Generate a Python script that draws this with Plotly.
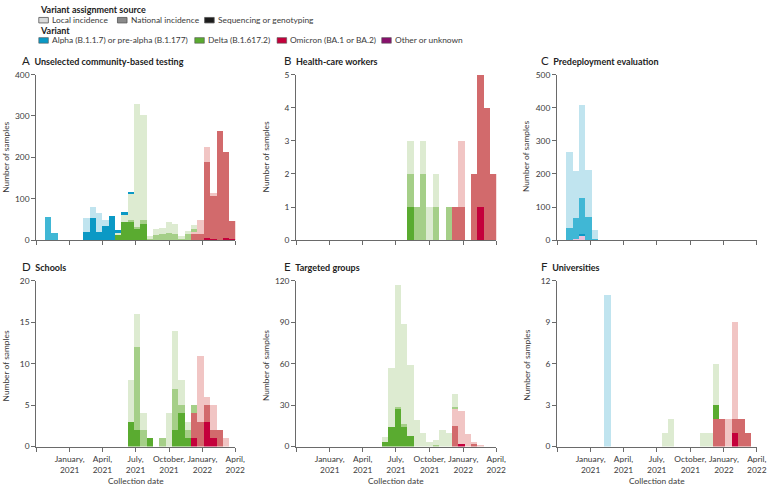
import plotly.graph_objects as go
from datetime import datetime, timedelta

# ---------------- data ----------------
# 30 histogram bins (approx. 17.5 days each) starting late October 2020
BIN_START = datetime(2020, 10, 26)
BIN_DAYS = 17.45
N_BINS = 30

# Panel A: Unselected community-based testing
A_alpha_seq = [0,0,0,0,0,0,21,54,20,35, 60,8,7,2,0,0,0,0,0,0, 0,0,0,0,0,0,0,0,0,0]
A_alpha_nat = [57,18,0,0,0,0,0,0,0,0, 0,0,0,0,0,0,0,0,0,0, 0,0,0,0,0,0,0,0,0,0]
A_alpha_loc = [0,0,0,0,0,0,34,28,47,15, 0,0,0,0,0,0,0,0,0,0, 0,0,0,0,0,0,0,0,0,0]
A_delta_seq = [0,0,0,0,0,0,0,0,0,0, 0,12,46,47,30,41,0,0,0,0, 0,0,0,0,0,0,0,0,0,0]
A_delta_nat = [0,0,0,0,0,0,0,0,0,0, 0,0,0,2,3,8,5,14,15,18, 16,4,17,6,0,0,0,0,0,0]
A_delta_loc = [0,0,0,0,0,0,0,0,0,0, 0,5,15,65,298,254,5,14,16,27, 25,8,7,11,0,0,0,0,0,0]
A_omi_seq   = [0,0,0,0,0,0,0,0,0,0, 0,0,0,0,0,0,0,0,0,0, 0,0,0,0,0,6,3,0,6,3]
A_omi_nat   = [0,0,0,0,0,0,0,0,0,0, 0,0,0,0,0,0,0,0,0,0, 0,0,0,16,17,185,105,265,207,44]
A_omi_loc   = [0,0,0,0,0,0,0,0,0,0, 0,0,0,0,0,0,0,0,0,0, 0,0,0,5,32,35,8,0,0,0]
A_other_nat = [0,1,0,0,0,0,0,0,0,0, 0,1,0,0,0,0,0,0,0,0, 0,0,0,0,0,0,0,0,0,0]

# Panel B: Health-care workers
B_delta_seq = [0,0,0,0,0,0,0,0,0,0, 0,0,0,0,0,0,1,0,0,0, 0,0,0,0,0,0,0,0,0,0]
B_delta_nat = [0,0,0,0,0,0,0,0,0,0, 0,0,0,0,0,0,1,1,2,0, 1,0,1,0,0,0,0,0,0,0]
B_delta_loc = [0,0,0,0,0,0,0,0,0,0, 0,0,0,0,0,0,1,0,1,1, 1,0,0,0,0,0,0,0,0,0]
B_omi_seq   = [0,0,0,0,0,0,0,0,0,0, 0,0,0,0,0,0,0,0,0,0, 0,0,0,0,0,0,0,1,0,0]
B_omi_nat   = [0,0,0,0,0,0,0,0,0,0, 0,0,0,0,0,0,0,0,0,0, 0,0,0,1,1,0,2,4,4,2]
B_omi_loc   = [0,0,0,0,0,0,0,0,0,0, 0,0,0,0,0,0,0,0,0,0, 0,0,0,0,2,0,0,0,0,0]

# Panel C: Predeployment evaluation
C_alpha_seq = [0,0,3,0,0,0,0,0,0,0, 0,0,0,0,0,0,0,0,0,0, 0,0,0,0,0,0,0,0,0,0]
C_alpha_nat = [39,65,111,72,4,0,0,0,0,0, 0,0,0,0,0,0,0,0,0,0, 0,0,0,0,0,0,0,0,0,0]
C_alpha_loc = [227,141,279,140,28,0,0,0,0,0, 0,0,0,0,0,0,0,0,0,0, 0,0,0,0,0,0,0,0,0,0]
C_other_loc = [0,4,16,0,0,0,0,0,0,0, 0,0,0,0,0,0,0,0,0,0, 0,0,0,0,0,0,0,0,0,0]

# Panel D: Schools
D_delta_seq = [0,0,0,0,0,0,0,0,0,0, 0,0,0,3,2,0,1,0,0,0, 2,4,1,0,0,0,0,0,0,0]
D_delta_nat = [0,0,0,0,0,0,0,0,0,0, 0,0,0,0,10,2,0,0,1,0, 5,1,1,1,0,0,0,0,0,0]
D_delta_loc = [0,0,0,0,0,0,0,0,0,0, 0,0,0,5,4,2,0,0,0,4, 7,3,1,0,0,0,0,0,0,0]
D_omi_seq   = [0,0,0,0,0,0,0,0,0,0, 0,0,0,0,0,0,0,0,0,0, 0,0,0,1,0,3,1,0,0,0]
D_omi_nat   = [0,0,0,0,0,0,0,0,0,0, 0,0,0,0,0,0,0,0,0,0, 0,0,0,3,3,2,1,2,0,0]
D_omi_loc   = [0,0,0,0,0,0,0,0,0,0, 0,0,0,0,0,0,0,0,0,0, 0,0,0,0,8,1,3,0,1,0]

# Panel E: Targeted groups
E_delta_seq = [0,0,0,0,0,0,0,0,0,0, 0,0,3,14,27,14,8,0,0,0, 0,0,0,0,0,0,0,0,0,0]
E_delta_nat = [0,0,0,0,0,0,0,0,0,0, 0,0,0,0,2,2,0,0,0,0, 1,0,0,2,0,0,0,0,0,0]
E_delta_loc = [0,0,0,0,0,0,0,0,0,0, 0,0,4,43,88,73,51,19,10,3, 4,12,10,9,0,0,0,0,0,0]
E_omi_seq   = [0,0,0,0,0,0,0,0,0,0, 0,0,0,0,0,0,0,0,0,0, 0,0,0,0,2,0,0,0,0,0]
E_omi_nat   = [0,0,0,0,0,0,0,0,0,0, 0,0,0,0,0,0,0,0,0,0, 0,0,0,15,0,0,2,0,0,0]
E_omi_loc   = [0,0,0,0,0,0,0,0,0,0, 0,0,0,0,0,0,0,0,0,0, 0,0,0,12,24,9,1,1,0,0]

# Panel F: Universities
F_alpha_loc = [0,0,0,0,0,0,11,0,0,0, 0,0,0,0,0,0,0,0,0,0, 0,0,0,0,0,0,0,0,0,0]
F_delta_seq = [0,0,0,0,0,0,0,0,0,0, 0,0,0,0,0,0,0,0,0,0, 0,0,0,1,0,0,0,0,0,0]
F_delta_loc = [0,0,0,0,0,0,0,0,0,0, 0,0,0,0,0,1,2,0,0,0, 0,1,1,3,0,0,0,0,0,0]
F_omi_seq   = [0,0,0,0,0,0,0,0,0,0, 0,0,0,0,0,0,0,0,0,0, 0,0,0,0,0,0,1,0,0,0]
F_omi_nat   = [0,0,0,0,0,0,0,0,0,0, 0,0,0,0,0,0,0,0,0,0, 0,0,0,2,2,0,1,2,1,0]
F_omi_loc   = [0,0,0,0,0,0,0,0,0,0, 0,0,0,0,0,0,0,0,0,0, 0,0,0,0,0,2,7,0,0,0]

PANEL_TITLES = ["Unselected community-based testing", "Health-care workers",
                "Predeployment evaluation", "Schools", "Targeted groups", "Universities"]
PANEL_LETTERS = ["A", "B", "C", "D", "E", "F"]
Y_MAX = [400, 5, 500, 20, 120, 12]
Y_STEP = [100, 1, 100, 5, 30, 3]
TICK_DATES = ["2020-10-01", "2021-01-01", "2021-04-01", "2021-07-01",
              "2021-10-01", "2022-01-01", "2022-04-01"]
TICK_TEXT = ["", "January,<br>2021", "April,<br>2021", "July,<br>2021",
             "October,<br>2021", "January,<br>2022", "April,<br>2022"]

SOURCES = ["Local incidence", "National incidence", "Sequencing or genotyping"]
VARIANTS = ["Alpha (B.1.1.7) or pre-alpha (B.1.177)", "Delta (B.1.617.2)",
            "Omicron (BA.1 or BA.2)", "Other or unknown"]

# colours: [sequencing, national, local]
COL = {
    "alpha":   ["#0b99c5", "#40b7d5", "#c0e4ef"],
    "delta":   ["#5aab30", "#a5cf88", "#ddebd1"],
    "omicron": ["#c4003b", "#d26a6c", "#f1c5c4"],
    "other":   ["#88106c", "#b65c9d", "#e8c1dc"],
}

PANELS = [
    {"other": [None, A_other_nat, None], "omicron": [A_omi_seq, A_omi_nat, A_omi_loc],
     "delta": [A_delta_seq, A_delta_nat, A_delta_loc], "alpha": [A_alpha_seq, A_alpha_nat, A_alpha_loc]},
    {"omicron": [B_omi_seq, B_omi_nat, B_omi_loc], "delta": [B_delta_seq, B_delta_nat, B_delta_loc]},
    {"other": [None, None, C_other_loc], "alpha": [C_alpha_seq, C_alpha_nat, C_alpha_loc]},
    {"omicron": [D_omi_seq, D_omi_nat, D_omi_loc], "delta": [D_delta_seq, D_delta_nat, D_delta_loc]},
    {"omicron": [E_omi_seq, E_omi_nat, E_omi_loc], "delta": [E_delta_seq, E_delta_nat, E_delta_loc]},
    {"omicron": [F_omi_seq, F_omi_nat, F_omi_loc], "delta": [F_delta_seq, None, F_delta_loc],
     "alpha": [None, None, F_alpha_loc]},
]

# ---------------- figure ----------------
W, H = 776, 492
FONT = "Lato"
AXC = "#6a6a6a"
TXT = "#3a3a3a"
FS = 8.4

centers = [BIN_START + timedelta(days=BIN_DAYS * (i + 0.5)) for i in range(N_BINS)]
width_ms = BIN_DAYS * 86400000

def px(x):
    return x / W

def py(y):
    return 1 - y / H

# axes pixel boxes (left, right, top, bottom)
COLS_X = [(36.7, 238.3), (300.0, 502.7), (564.3, 766.7)]
ROWS_Y = [(71.0, 240.0), (281.7, 450.7)]

fig = go.Figure()
layout = {}
for p in range(6):
    r, c = divmod(p, 3)
    ax = "" if p == 0 else str(p + 1)
    for var in ["other", "omicron", "delta", "alpha"]:
        if var not in PANELS[p]:
            continue
        for s in range(3):
            vals = PANELS[p][var][s]
            if vals is None:
                continue
            assert len(vals) == N_BINS
            fig.add_trace(go.Bar(x=centers, y=vals, width=width_ms,
                                 marker=dict(color=COL[var][s], line=dict(width=0)),
                                 xaxis="x" + ax, yaxis="y" + ax, showlegend=False,
                                 hoverinfo="x+y"))
    x0, x1 = COLS_X[c]
    y0, y1 = ROWS_Y[r]
    layout["xaxis" + ax] = dict(
        domain=[px(x0), px(x1)], anchor="y" + ax, type="date",
        range=["2020-10-01", "2022-04-01"], tickvals=TICK_DATES,
        ticktext=TICK_TEXT, showticklabels=(r == 1), tickangle=0,
        showline=True, linecolor=AXC, linewidth=1, ticks="outside", ticklen=4,
        tickcolor=AXC, showgrid=False, zeroline=False,
        tickfont=dict(family=FONT, size=FS, color=TXT))
    layout["yaxis" + ax] = dict(
        domain=[py(y1), py(y0)], anchor="x" + ax, range=[0, Y_MAX[p]],
        tickvals=list(range(0, Y_MAX[p] + 1, Y_STEP[p])),
        showline=True, linecolor=AXC, linewidth=1, ticks="outside", ticklen=4,
        tickcolor=AXC, showgrid=False, zeroline=False,
        tickfont=dict(family=FONT, size=FS, color=TXT))

annotations = []
shapes = []

# panel titles
TITLE_X = [20, 286, 546]
TITLE_Y = [57, 267]
for p in range(6):
    r, c = divmod(p, 3)
    annotations.append(dict(
        x=px(TITLE_X[c]), y=py(TITLE_Y[r]), xref="paper", yref="paper",
        xanchor="left", yanchor="middle", showarrow=False,
        text="<span style='font-size:11.5px'>%s</span>  <b>%s</b>" % (PANEL_LETTERS[p], PANEL_TITLES[p]),
        font=dict(family=FONT, size=9, color="#222")))

# y-axis titles
YT_X = [6, 269, 533]
YT_Y = [155, 368]
for r in range(2):
    for c in range(3):
        annotations.append(dict(
            x=px(YT_X[c]), y=py(YT_Y[r]), xref="paper", yref="paper",
            xanchor="center", yanchor="middle", showarrow=False, textangle=-90,
            text="Number of samples", font=dict(family=FONT, size=FS, color=TXT)))
# x-axis titles
for c in range(3):
    x0, x1 = COLS_X[c]
    annotations.append(dict(
        x=px((x0 + x1) / 2), y=py(486), xref="paper", yref="paper",
        xanchor="center", yanchor="middle", showarrow=False,
        text="Collection date", font=dict(family=FONT, size=FS, color=TXT)))

# legend
annotations.append(dict(x=px(38), y=py(5), xref="paper", yref="paper", xanchor="left",
                        yanchor="middle", showarrow=False, text="<b>Variant assignment source</b>",
                        font=dict(family=FONT, size=9, color="#222")))
annotations.append(dict(x=px(38), y=py(26), xref="paper", yref="paper", xanchor="left",
                        yanchor="middle", showarrow=False, text="<b>Variant</b>",
                        font=dict(family=FONT, size=9, color="#222")))

SRC_SW_X = [39.3, 119, 207.3]
SRC_COL = ["#d9d9d9", "#8a8a8a", "#1c1c1c"]
for i, name in enumerate(SOURCES):
    sx = SRC_SW_X[i]
    shapes.append(dict(type="rect", xref="paper", yref="paper",
                       x0=px(sx), x1=px(sx + 9.7), y0=py(18.3), y1=py(12.7),
                       fillcolor=SRC_COL[i], line=dict(color="#555", width=0.8)))
    annotations.append(dict(x=px(sx + 11.5), y=py(15.5), xref="paper", yref="paper",
                            xanchor="left", yanchor="middle", showarrow=False, text=name,
                            font=dict(family=FONT, size=FS, color=TXT)))

VAR_SW_X = [39.3, 197.3, 280.7, 386.7]
VAR_COL = [COL["alpha"][0], COL["delta"][0], COL["omicron"][0], COL["other"][0]]
for i, name in enumerate(VARIANTS):
    sx = VAR_SW_X[i]
    shapes.append(dict(type="rect", xref="paper", yref="paper",
                       x0=px(sx), x1=px(sx + 9.7), y0=py(39), y1=py(33.3),
                       fillcolor=VAR_COL[i], line=dict(color="#555", width=0.6)))
    annotations.append(dict(x=px(sx + 11.5), y=py(36.2), xref="paper", yref="paper",
                            xanchor="left", yanchor="middle", showarrow=False, text=name,
                            font=dict(family=FONT, size=FS, color=TXT)))

fig.update_layout(
    width=W, height=H, margin=dict(l=0, r=0, t=0, b=0),
    paper_bgcolor="white", plot_bgcolor="white",
    barmode="stack", bargap=0, showlegend=False,
    annotations=annotations, shapes=shapes,
    font=dict(family=FONT, size=FS, color=TXT),
    **layout)

POST = ("document.documentElement.style.margin='0';"
        "document.documentElement.style.overflow='hidden';"
        "document.body.style.margin='0';document.body.style.padding='0';"
        "document.body.style.overflow='hidden';")
fig.write_html("out.html", config={"displayModeBar": False}, post_script=POST)
